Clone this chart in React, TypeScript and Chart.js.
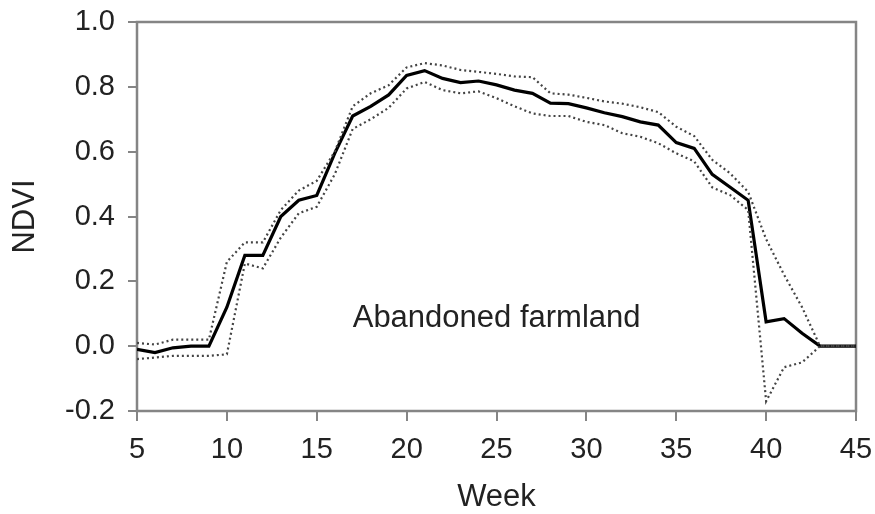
import React, { useEffect, useRef } from "react";
import { Chart, registerables } from "chart.js";

Chart.register(...registerables);

const weeks = [5, 6, 7, 8, 9, 10, 11, 12, 13, 14, 15, 16, 17, 18, 19, 20, 21, 22, 23, 24, 25, 26, 27, 28, 29, 30, 31, 32, 33, 34, 35, 36, 37, 38, 39, 40, 41, 42, 43, 44, 45];

const ndviMean = [-0.01, -0.02, -0.005, 0.0, 0.0, 0.12, 0.28, 0.28, 0.40, 0.45, 0.465, 0.595, 0.71, 0.74, 0.775, 0.835, 0.85, 0.826, 0.813, 0.818, 0.806, 0.79, 0.78, 0.75, 0.748, 0.735, 0.72, 0.708, 0.692, 0.682, 0.628, 0.61, 0.53, 0.49, 0.45, 0.075, 0.085, 0.04, 0.0, 0.0, 0.0];

const ndviUpper = [0.01, 0.005, 0.02, 0.02, 0.02, 0.26, 0.32, 0.32, 0.42, 0.48, 0.51, 0.60, 0.74, 0.78, 0.805, 0.86, 0.873, 0.866, 0.852, 0.846, 0.84, 0.832, 0.83, 0.78, 0.776, 0.766, 0.755, 0.748, 0.737, 0.722, 0.677, 0.648, 0.575, 0.533, 0.476, 0.33, 0.22, 0.12, 0.0, 0.0, 0.0];

const ndviLower = [-0.04, -0.035, -0.03, -0.03, -0.03, -0.025, 0.255, 0.24, 0.335, 0.41, 0.43, 0.53, 0.67, 0.70, 0.735, 0.795, 0.815, 0.79, 0.78, 0.786, 0.765, 0.74, 0.718, 0.71, 0.71, 0.692, 0.682, 0.657, 0.646, 0.626, 0.595, 0.57, 0.49, 0.466, 0.42, -0.17, -0.065, -0.05, 0.0, 0.0, 0.0];

const annotationText = "Abandoned farmland";
const xTitle = "Week";
const yTitle = "NDVI";

const FONT = "'Liberation Sans', Arial, sans-serif";
const FRAME = "#858585";

const toPoints = (vals: number[]) => weeks.map((w, i) => ({ x: w, y: vals[i] }));

export default function App() {
  const ref = useRef<HTMLCanvasElement | null>(null);

  useEffect(() => {
    if (!ref.current) return;

    const framePlugin = {
      id: "frame",
      beforeDatasetsDraw(chart: any) {
        const { ctx, chartArea } = chart;
        ctx.save();
        ctx.strokeStyle = FRAME;
        ctx.lineWidth = 2.5;
        ctx.strokeRect(chartArea.left, chartArea.top, chartArea.right - chartArea.left, chartArea.bottom - chartArea.top);
        ctx.restore();
      },
    };

    const notePlugin = {
      id: "note",
      afterDatasetsDraw(chart: any) {
        const { ctx, scales } = chart;
        ctx.save();
        ctx.font = `31px ${FONT}`;
        ctx.fillStyle = "#222";
        ctx.textAlign = "left";
        ctx.textBaseline = "alphabetic";
        ctx.fillText(annotationText, scales.x.getPixelForValue(17.0), scales.y.getPixelForValue(0.06));
        ctx.restore();
      },
    };

    const chart = new Chart(ref.current, {
      type: "line",
      data: {
        datasets: [
          {
            data: toPoints(ndviUpper),
            borderColor: "#444",
            borderWidth: 2.2,
            borderDash: [2, 3],
            pointRadius: 0,
            tension: 0,
            fill: false,
          },
          {
            data: toPoints(ndviLower),
            borderColor: "#444",
            borderWidth: 2.2,
            borderDash: [2, 3],
            pointRadius: 0,
            tension: 0,
            fill: false,
          },
          {
            data: toPoints(ndviMean),
            borderColor: "#000",
            borderWidth: 3.2,
            pointRadius: 0,
            tension: 0,
            fill: false,
          },
        ],
      },
      options: {
        responsive: false,
        animation: false,
        events: [],
        layout: { padding: { top: 22, right: 19, left: 0, bottom: 0 } },
        plugins: {
          legend: { display: false },
          tooltip: { enabled: false },
          title: { display: false },
        },
        scales: {
          x: {
            type: "linear",
            min: 5,
            max: 45,
            afterFit(scale: any) {
              scale.height = 103;
              scale.paddingLeft = 0;
              scale.paddingRight = 0;
            },
            ticks: {
              stepSize: 5,
              padding: 12,
              color: "#222",
              font: { family: FONT, size: 29 },
              maxRotation: 0,
              autoSkip: false,
            },
            grid: {
              drawOnChartArea: false,
              drawTicks: true,
              tickLength: 10,
              color: FRAME,
              lineWidth: 2,
            },
            border: { display: false },
            title: {
              display: true,
              text: xTitle,
              color: "#222",
              font: { family: FONT, size: 31, lineHeight: 1 },
              padding: { top: 0, bottom: 1 },
            },
          },
          y: {
            min: -0.2,
            max: 1.0,
            afterFit(scale: any) {
              scale.width = 137;
              scale.paddingTop = 0;
              scale.paddingBottom = 0;
            },
            ticks: {
              stepSize: 0.2,
              padding: 13,
              color: "#222",
              font: { family: FONT, size: 29 },
              callback: (v: any) => (Math.abs(Number(v)) < 1e-9 ? "0.0" : Number(v).toFixed(1)),
            },
            grid: {
              drawOnChartArea: false,
              drawTicks: true,
              tickLength: 9,
              color: FRAME,
              lineWidth: 2,
            },
            border: { display: false },
            title: {
              display: true,
              text: yTitle,
              color: "#222",
              font: { family: FONT, size: 31, lineHeight: 1 },
              padding: { top: 10, bottom: 0 },
            },
          },
        },
      },
      plugins: [framePlugin, notePlugin],
    } as any);

    return () => chart.destroy();
  }, []);

  return (
    <div style={{ position: "absolute", left: 0, top: 0, width: 875, height: 514, background: "#fff" }}>
      <canvas ref={ref} width={875} height={514} style={{ display: "block", width: 875, height: 514 }} />
    </div>
  );
}
